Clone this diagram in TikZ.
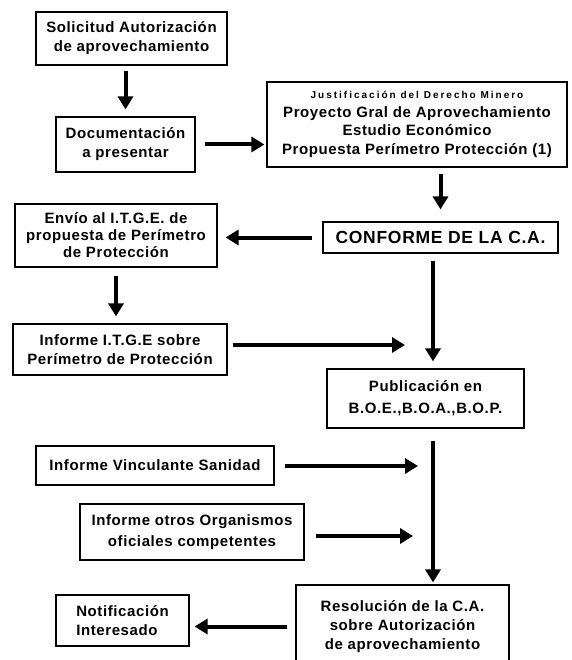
\documentclass[tikz,border=0pt]{standalone}
\usepackage{fontspec}
\setmainfont{Liberation Sans}[LetterSpace=4]
\newfontfamily\espaciada{Liberation Sans}[LetterSpace=20]
\usetikzlibrary{arrows.meta}

\begin{document}
\begin{tikzpicture}[x=1pt,y=1pt,
  caja/.style={draw, line width=1.2pt, align=center, inner sep=0pt,
    font=\bfseries\fontsize{15}{19}\selectfont},
  flecha/.style={line width=4pt, -{Triangle[length=13pt,width=15pt]}}]
\useasboundingbox (0,0) rectangle (571,-660);

\node[caja, minimum width=191pt, minimum height=53pt] (sol) at (131.5,-38.5)
  {Solicitud Autorización\\de aprovechamiento};
\node[caja, minimum width=139pt, minimum height=55pt] (doc) at (125.5,-144.5)
  {Documentación\\a presentar};
\node[caja, minimum width=300pt, minimum height=85pt] (just) at (417,-124.5)
  {{\espaciada\fontsize{10}{14}\selectfont Justificación del Derecho Minero}\\
   Proyecto Gral de Aprovechamiento\\[-1pt]
   Estudio Económico\\
   Propuesta Perímetro Protección (1)};
\node[caja, minimum width=235pt, minimum height=31pt,
  font=\bfseries\fontsize{17.5}{20}\selectfont] (conf) at (440.5,-237.5)
  {CONFORME DE LA C.A.};
\node[caja, minimum width=202pt, minimum height=63pt,
  font=\bfseries\fontsize{15}{17}\selectfont] (envio) at (116,-235.5)
  {Envío al I.T.G.E. de\\propuesta de Perímetro\\de Protección};
\node[caja, minimum width=214pt, minimum height=51pt] (itge) at (120,-349.5)
  {Informe I.T.G.E sobre\\Perímetro de Protección};
\node[caja, minimum width=197pt, minimum height=59pt,
  font=\bfseries\fontsize{15}{22}\selectfont] (pub) at (425.5,-398.5)
  {Publicación en\\B.O.E.,B.O.A.,B.O.P.};
\node[caja, minimum width=238pt, minimum height=39pt] (vinc) at (155,-465.5)
  {Informe Vinculante Sanidad};
\node[caja, minimum width=224pt, minimum height=56pt,
  font=\bfseries\fontsize{15}{21}\selectfont] (otros) at (192,-532)
  {Informe otros Organismos\\oficiales competentes};
\node[caja, minimum width=213pt, minimum height=83pt] (resol) at (402.5,-626.5)
  {Resolución de la C.A.\\sobre Autorización\\de aprovechamiento};
\node[caja, minimum width=133pt, minimum height=51pt, align=left] (notif) at (122.5,-620.5)
  {Notificación\\Interesado};

\coordinate (trunk) at (433,0);
\coordinate (j1) at (405,-345);
\coordinate (j2) at (418,-466);
\coordinate (j3) at (413,-536);

\draw[flecha, shorten <=5pt, shorten >=7pt] (sol.south -| doc.north) -- (doc.north);
\draw[flecha, shorten <=9pt, shorten >=2pt] (doc.east) -- (doc.east -| just.west);
\draw[flecha, shorten <=6pt, shorten >=12pt] (just.south -| conf.north) -- (conf.north);
\draw[flecha, shorten <=10pt, shorten >=8pt] (conf.west) -- (conf.west -| envio.east);
\draw[flecha, shorten <=8pt, shorten >=7pt] (envio.south) -- (envio.south |- itge.north);
\draw[flecha, shorten <=5pt] (itge.east |- j1) -- (j1);
\draw[flecha, shorten <=7pt, shorten >=7pt] (conf.south -| trunk) -- (pub.north -| trunk);
\draw[flecha, shorten <=12pt, shorten >=2pt] (pub.south -| trunk) -- (resol.north -| trunk);
\draw[flecha, shorten <=10pt] (vinc.east |- j2) -- (j2);
\draw[flecha, shorten <=11pt] (otros.east |- j3) -- (j3);
\draw[flecha, shorten <=8pt, shorten >=5pt] (resol.west) -- (resol.west -| notif.east);
\end{tikzpicture}
\end{document}
